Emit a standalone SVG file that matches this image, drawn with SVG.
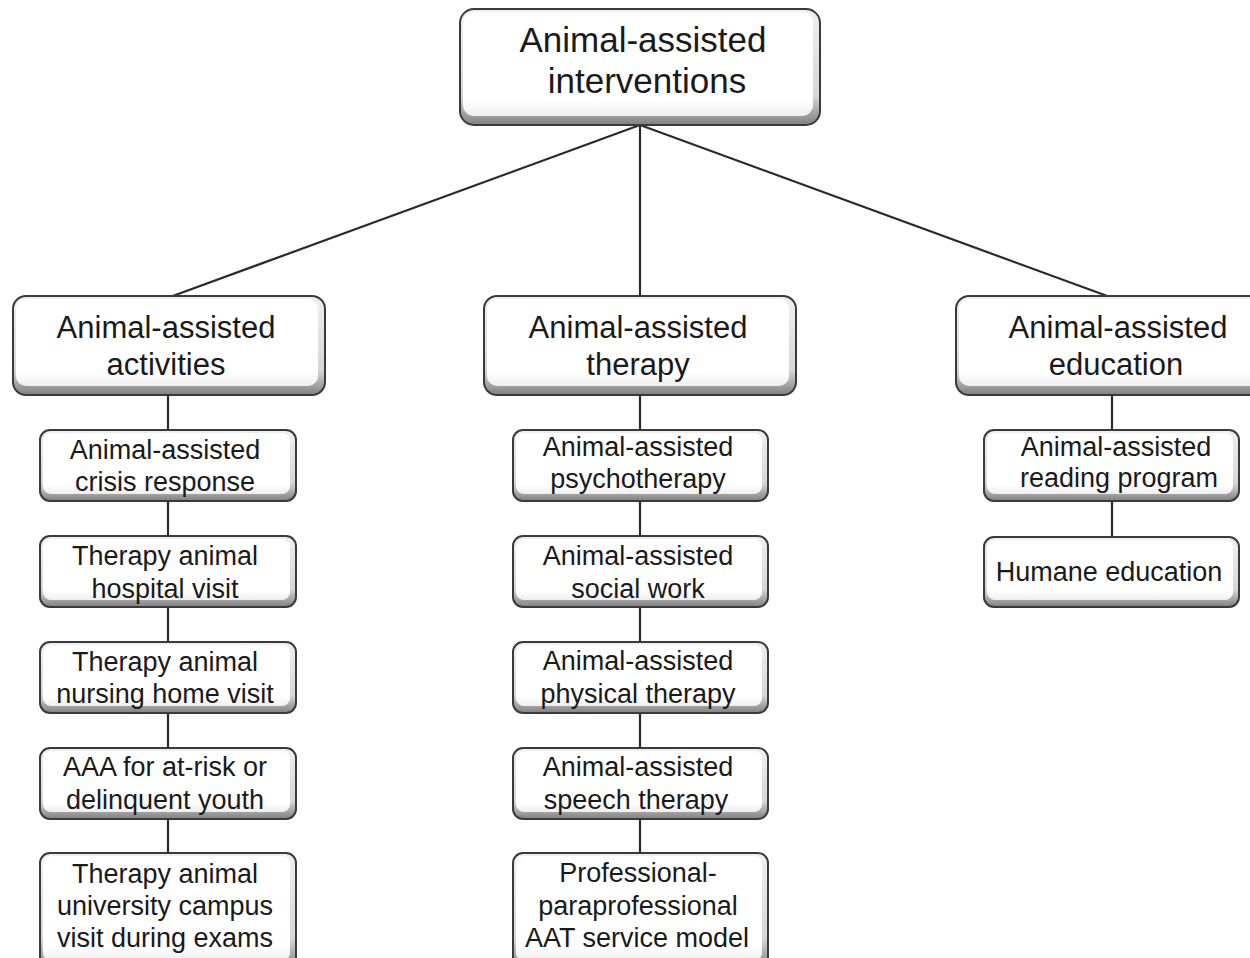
<svg xmlns="http://www.w3.org/2000/svg" width="1250" height="958" viewBox="0 0 1250 958">
<defs>
<linearGradient id="bev" x1="0" y1="0" x2="0" y2="1">
<stop offset="0" stop-color="#f0f0f0"/>
<stop offset="0.75" stop-color="#d6d6d6"/>
<stop offset="1" stop-color="#808080"/>
</linearGradient>
<linearGradient id="face" x1="0" y1="0" x2="0" y2="1">
<stop offset="0" stop-color="#ffffff"/>
<stop offset="0.85" stop-color="#ffffff"/>
<stop offset="1" stop-color="#eeeeee"/>
</linearGradient>
</defs>
<style>
.box{fill:url(#bev);stroke:#3a3a3a;stroke-width:2}
.in{fill:url(#face);stroke:none}
.t{font-family:"Liberation Sans",Arial,sans-serif;fill:#1a1a1a;text-anchor:middle}
.t1{font-size:35px}
.t2{font-size:31px}
.t3{font-size:27px}
.c{stroke:#2a2a2a;stroke-width:2.2;fill:none}
</style>
<rect width="1250" height="958" fill="#ffffff"/>
<g id="connectors">
<line class="c" x1="640" y1="125" x2="170" y2="297"/>
<line class="c" x1="640" y1="125" x2="640" y2="297"/>
<line class="c" x1="640" y1="125" x2="1110" y2="297"/>
<line class="c" x1="168" y1="394" x2="168" y2="431"/>
<line class="c" x1="168" y1="500" x2="168" y2="537"/>
<line class="c" x1="168" y1="606" x2="168" y2="643"/>
<line class="c" x1="168" y1="712" x2="168" y2="749"/>
<line class="c" x1="168" y1="818" x2="168" y2="854"/>
<line class="c" x1="640" y1="394" x2="640" y2="431"/>
<line class="c" x1="640" y1="500" x2="640" y2="537"/>
<line class="c" x1="640" y1="606" x2="640" y2="643"/>
<line class="c" x1="640" y1="712" x2="640" y2="749"/>
<line class="c" x1="640" y1="818" x2="640" y2="854"/>
<line class="c" x1="1112" y1="394" x2="1112" y2="431"/>
<line class="c" x1="1112" y1="500" x2="1112" y2="537"/>
</g>
<g id="n-aai">
<rect class="box" x="460" y="9" width="360" height="116" rx="14"/>
<rect class="in" x="463" y="12" width="350" height="104" rx="11"/>
<text class="t t1" x="643" y="52">Animal-assisted</text>
<text class="t t1" x="647" y="93">interventions</text>
</g>
<g id="n-aaa">
<rect class="box" x="13" y="296" width="312" height="99" rx="13"/>
<rect class="in" x="16" y="299" width="302" height="87" rx="10"/>
<text class="t t2" x="166" y="338">Animal-assisted</text>
<text class="t t2" x="166" y="375">activities</text>
</g>
<g id="n-aat">
<rect class="box" x="484" y="296" width="312" height="99" rx="13"/>
<rect class="in" x="487" y="299" width="302" height="87" rx="10"/>
<text class="t t2" x="638" y="338">Animal-assisted</text>
<text class="t t2" x="638" y="375">therapy</text>
</g>
<g id="n-aae">
<rect class="box" x="956" y="296" width="312" height="99" rx="13"/>
<rect class="in" x="959" y="299" width="302" height="87" rx="10"/>
<text class="t t2" x="1118" y="338">Animal-assisted</text>
<text class="t t2" x="1116" y="375">education</text>
</g>
<g id="n-crisis">
<rect class="box" x="40" y="430" width="256" height="71" rx="10"/>
<rect class="in" x="43" y="433" width="247" height="61" rx="8"/>
<text class="t t3" x="165" y="459">Animal-assisted</text>
<text class="t t3" x="165" y="491">crisis response</text>
</g>
<g id="n-hospital">
<rect class="box" x="40" y="536" width="256" height="71" rx="10"/>
<rect class="in" x="43" y="539" width="247" height="61" rx="8"/>
<text class="t t3" x="165" y="565">Therapy animal</text>
<text class="t t3" x="165" y="598">hospital visit</text>
</g>
<g id="n-nursing">
<rect class="box" x="40" y="642" width="256" height="71" rx="10"/>
<rect class="in" x="43" y="645" width="247" height="61" rx="8"/>
<text class="t t3" x="165" y="671">Therapy animal</text>
<text class="t t3" x="165" y="703">nursing home visit</text>
</g>
<g id="n-youth">
<rect class="box" x="40" y="748" width="256" height="71" rx="10"/>
<rect class="in" x="43" y="751" width="247" height="61" rx="8"/>
<text class="t t3" x="165" y="776">AAA for at-risk or</text>
<text class="t t3" x="165" y="809">delinquent youth</text>
</g>
<g id="n-campus">
<rect class="box" x="40" y="853" width="256" height="115" rx="10"/>
<rect class="in" x="43" y="856" width="247" height="105" rx="8"/>
<text class="t t3" x="165" y="883">Therapy animal</text>
<text class="t t3" x="165" y="915">university campus</text>
<text class="t t3" x="165" y="947">visit during exams</text>
</g>
<g id="n-psycho">
<rect class="box" x="513" y="430" width="255" height="71" rx="10"/>
<rect class="in" x="516" y="433" width="246" height="61" rx="8"/>
<text class="t t3" x="638" y="456">Animal-assisted</text>
<text class="t t3" x="638" y="488">psychotherapy</text>
</g>
<g id="n-social">
<rect class="box" x="513" y="536" width="255" height="71" rx="10"/>
<rect class="in" x="516" y="539" width="246" height="61" rx="8"/>
<text class="t t3" x="638" y="565">Animal-assisted</text>
<text class="t t3" x="638" y="598">social work</text>
</g>
<g id="n-physical">
<rect class="box" x="513" y="642" width="255" height="71" rx="10"/>
<rect class="in" x="516" y="645" width="246" height="61" rx="8"/>
<text class="t t3" x="638" y="670">Animal-assisted</text>
<text class="t t3" x="638" y="703">physical therapy</text>
</g>
<g id="n-speech">
<rect class="box" x="513" y="748" width="255" height="71" rx="10"/>
<rect class="in" x="516" y="751" width="246" height="61" rx="8"/>
<text class="t t3" x="638" y="776">Animal-assisted</text>
<text class="t t3" x="636" y="809">speech therapy</text>
</g>
<g id="n-model">
<rect class="box" x="513" y="853" width="255" height="115" rx="10"/>
<rect class="in" x="516" y="856" width="246" height="105" rx="8"/>
<text class="t t3" x="638" y="882">Professional-</text>
<text class="t t3" x="638" y="915">paraprofessional</text>
<text class="t t3" x="637" y="947">AAT service model</text>
</g>
<g id="n-reading">
<rect class="box" x="984" y="430" width="255" height="71" rx="10"/>
<rect class="in" x="987" y="433" width="246" height="61" rx="8"/>
<text class="t t3" x="1116" y="456">Animal-assisted</text>
<text class="t t3" x="1119" y="487">reading program</text>
</g>
<g id="n-humane">
<rect class="box" x="984" y="537" width="255" height="70" rx="10"/>
<rect class="in" x="987" y="540" width="246" height="60" rx="8"/>
<text class="t t3" x="1109" y="581">Humane education</text>
</g>
</svg>
